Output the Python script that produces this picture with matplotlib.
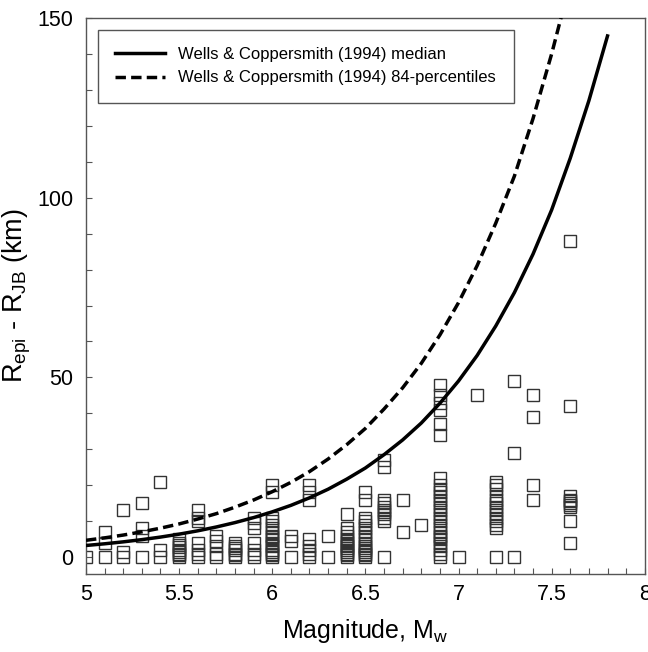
import matplotlib
matplotlib.use('Agg')
import matplotlib.pyplot as plt
from matplotlib.ticker import MultipleLocator

plt.rcParams['font.family'] = ['Liberation Sans', 'DejaVu Sans']
plt.rcParams['mathtext.fontset'] = 'custom'
plt.rcParams['mathtext.rm'] = 'Liberation Sans'
plt.rcParams['mathtext.it'] = 'Liberation Sans'

# Wells & Coppersmith (1994) curves
curve_mw = [5.0, 5.1, 5.2, 5.3, 5.4, 5.5, 5.6, 5.7, 5.8, 5.9,
            6.0, 6.1, 6.2, 6.3, 6.4, 6.5, 6.6, 6.7, 6.8, 6.9,
            7.0, 7.1, 7.2, 7.3, 7.4, 7.5, 7.6, 7.7, 7.8]
median = [3.24, 3.71, 4.25, 4.87, 5.58, 6.39, 7.32, 8.39, 9.61, 11.0,
          12.6, 14.4, 16.5, 18.9, 21.7, 24.8, 28.5, 32.6, 37.3, 42.8,
          49.0, 56.1, 64.3, 73.6, 84.3, 96.6, 111.0, 127.0, 145.0]
p84_mw = curve_mw[:27]
p84 = [4.68, 5.36, 6.14, 7.04, 8.06, 9.23, 10.6, 12.1, 13.9, 15.9,
       18.2, 20.8, 23.8, 27.3, 31.3, 35.8, 41.2, 47.1, 53.9, 61.8,
       70.8, 81.1, 92.9, 106.0, 122.0, 140.0, 160.0]

# recorded differences, grouped by event magnitude
event_mw = [5.0, 5.1, 5.2, 5.3, 5.4, 5.5, 5.6, 5.7, 5.8, 5.9,
            6.0, 6.1, 6.2, 6.3, 6.4, 6.5, 6.6, 6.7, 6.8, 6.9,
            7.0, 7.1, 7.2, 7.3, 7.4, 7.6]
diffs = [
    [0],
    [0, 4, 7],
    [0, 1.5, 13],
    [0, 6, 8, 15],
    [0, 2, 21],
    [0, 0.5, 1, 1.5, 2, 2.8, 3.5, 4, 5],
    [0, 1, 2, 4, 10, 11, 13],
    [0, 1, 3, 4.5, 6],
    [0, 0.5, 1, 2, 2.5, 3, 4],
    [0, 1, 2, 4, 8, 9.5, 11],
    [0, 0.5, 1, 1.5, 2, 3, 3.5, 4, 5, 5.5, 6, 7, 8, 9, 10, 11, 18, 20],
    [0, 4.5, 6],
    [0, 1, 2, 3, 5, 16, 18, 20],
    [0, 6],
    [0, 0.5, 1, 1.5, 2, 2.5, 3, 3.5, 4, 4.5, 5, 6, 7, 8, 12],
    [0, 0.5, 1, 1.5, 2, 2.5, 3, 4, 5, 6, 7, 8, 9, 10, 11, 16, 18],
    [0, 10, 11, 12, 12.5, 13, 14, 15, 16, 25, 27],
    [7, 16],
    [9],
    [0, 1, 2, 3, 4, 5, 5.5, 6, 7, 8, 9, 10, 11, 12, 13, 14, 15, 16, 17,
     18, 19, 20, 22, 34, 37, 41, 43, 45, 48],
    [0],
    [45],
    [0, 8, 9, 10, 11, 12, 13, 14, 15, 16, 17, 19, 20, 21],
    [0, 29, 49],
    [16, 20, 39, 45],
    [4, 10, 14, 14.5, 15, 15.5, 16, 17, 42, 88],
]

xs = [m for m, d in zip(event_mw, diffs) for _ in d]
ys = [v for d in diffs for v in d]

fig = plt.figure(figsize=(6.48, 6.52), dpi=100)
ax = fig.add_axes([0.1327, 0.1196, 0.8623, 0.8528])

ax.plot(xs, ys, 's', ms=9.2, mfc='none', mec='#333333', mew=1.0, zorder=2)
ax.plot(curve_mw, median, '-', color='black', lw=2.5, zorder=3,
        label='Wells & Coppersmith (1994) median')
ax.plot(p84_mw, p84, '--', color='black', lw=2.5, dashes=(3, 1.5), zorder=3,
        label='Wells & Coppersmith (1994) 84-percentiles')

ax.set_xlim(5, 8)
ax.set_ylim(-4.7, 150)
ax.xaxis.set_minor_locator(MultipleLocator(0.1))
ax.yaxis.set_minor_locator(MultipleLocator(10))
ax.set_xticks([5, 5.5, 6, 6.5, 7, 7.5, 8])
ax.set_xticklabels(['5', '5.5', '6', '6.5', '7', '7.5', '8'])
ax.set_yticks([0, 50, 100, 150])
ax.set_yticklabels(['0', '50', '100', '150'])
ax.tick_params(which='both', direction='in', length=4, width=0.8,
               color='#555555', labelsize=15.5, top=False, right=False)
ax.tick_params(axis='x', pad=7)
ax.tick_params(axis='y', pad=9)
for s in ax.spines.values():
    s.set_color('#555555')
    s.set_linewidth(1.0)

ax.set_xlabel('Magnitude, M$_{\\mathrm{w}}$', fontsize=18, labelpad=9)
ax.set_ylabel('R$_{\\mathrm{epi}}$ - R$_{\\mathrm{JB}}$ (km)', fontsize=19.5,
              labelpad=3)

leg = ax.legend(loc='upper left', fontsize=12, handlelength=3.0,
                borderaxespad=0.7, fancybox=False, framealpha=1,
                borderpad=1.05, labelspacing=0.5, handletextpad=0.8)
leg.get_frame().set_edgecolor('#555555')
leg.get_frame().set_linewidth(1.0)

fig.savefig('out.png', dpi=100)
